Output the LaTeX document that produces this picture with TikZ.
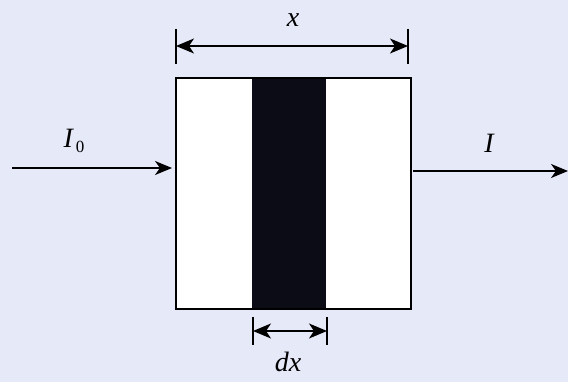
\documentclass[tikz,border=0pt]{standalone}
\usepackage{fontspec}
\setmainfont{Liberation Serif}
\usetikzlibrary{arrows.meta}
\definecolor{bgtint}{RGB}{230,233,248}
\definecolor{stripcol}{RGB}{12,12,22}
\tikzset{
  lbl/.style={font=\fontsize{28}{30}\selectfont\itshape, inner sep=0pt},
  line/.style={line width=1.5pt},
  tip/.style={-{Stealth[length=17pt,width=14pt,inset=5pt]}},
  dim/.style={{Stealth[length=18pt,width=15pt,inset=5pt]}-{Stealth[length=18pt,width=15pt,inset=5pt]}, line width=1.5pt},
  tick/.style={line width=1.6pt}
}
\begin{document}
\begin{tikzpicture}[x=1pt,y=-1pt]
\fill[bgtint] (0,0) rectangle (568,382);
\useasboundingbox (0,0) rectangle (568,382);
% box
\node[draw, line width=1.4pt, fill=white, minimum width=234pt, minimum height=230pt, inner sep=0pt, anchor=north west] (box) at (176,78) {};
\node[fill=stripcol, minimum width=74pt, minimum height=229pt, inner sep=0pt, anchor=north west] (strip) at (252,78.5) {};
\draw[line width=1.4pt] (box.north west) rectangle (box.south east);
% top dimension
\coordinate (tl1) at (176,29); \coordinate (tl2) at (176,64);
\coordinate (tr1) at (408,29); \coordinate (tr2) at (408,64);
\draw[tick] (tl1) -- (tl2);
\draw[tick] (tr1) -- (tr2);
\coordinate (ta) at (176,46); \coordinate (tb) at (408,46);
\draw[dim] (ta) -- (tb);
\node[lbl] (xl) at (293,20) {x};
% bottom dimension
\coordinate (bl1) at (253,317); \coordinate (bl2) at (253,345);
\coordinate (br1) at (327,317); \coordinate (br2) at (327,345);
\draw[tick] (bl1) -- (bl2);
\draw[tick] (br1) -- (br2);
\coordinate (ba) at (253,331); \coordinate (bb) at (327,331);
\draw[dim] (ba) -- (bb);
\node[lbl] (dxl) at (288,362) {dx};
% incoming beam
\coordinate (inL) at (12,168); \coordinate (inR) at (172,168);
\draw[line, tip] (inL) -- (inR);
\node[lbl] (i0) at (74,141) {I\kern3pt\raisebox{-5pt}{\upshape\fontsize{17}{18}\selectfont 0}};
% outgoing beam
\coordinate (outL) at (413,171); \coordinate (outR) at (568,171);
\draw[line, tip] (outL) -- (outR);
\node[lbl] (il) at (489,143) {I};
\end{tikzpicture}
\end{document}
